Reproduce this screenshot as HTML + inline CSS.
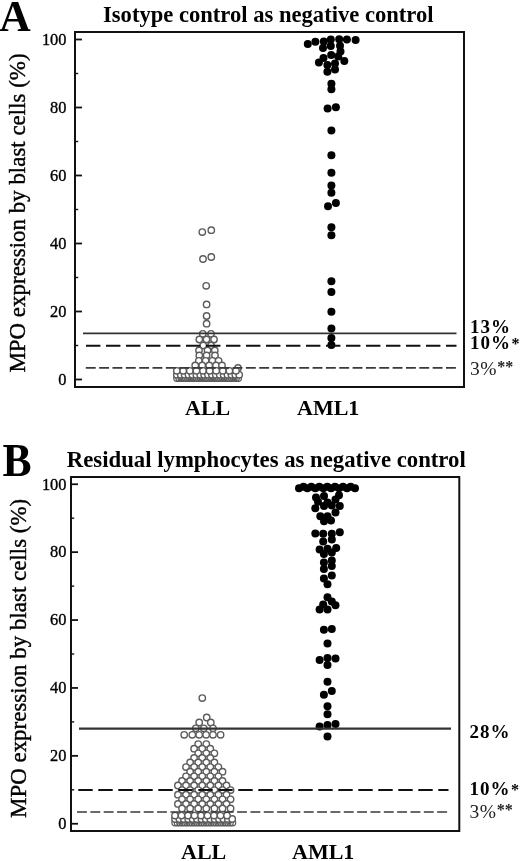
<!DOCTYPE html>
<html><head><meta charset="utf-8"><style>html,body{margin:0;padding:0;background:#fff;width:520px;height:861px;overflow:hidden}svg{display:block}</style></head>
<body>
<svg width="520" height="861" viewBox="0 0 520 861" style="filter:blur(0.4px)">
<style>text{font-family:"Liberation Serif",serif;fill:#000}.tk{font-size:16.4px;stroke:#000;stroke-width:0.35px}.ttl{font-size:22.6px;font-weight:bold}.big{font-size:45px;font-weight:bold}.xl{font-size:22px;font-weight:bold}.yl{font-size:22.95px;stroke:#000;stroke-width:0.4px}.pc{font-size:19px;font-weight:bold;letter-spacing:1px}.pr{font-size:19.5px;letter-spacing:0.6px;fill:#222}.st{font-size:16px;font-weight:bold}</style>
<rect width="520" height="861" fill="#fff"/>
<text transform="translate(-0.8,31.4) scale(0.97,1.0)" class="big">A</text>
<text x="103" y="22.1" class="ttl">Isotype control as negative control</text>
<text transform="translate(25.3,213) rotate(-90)" text-anchor="middle" class="yl">MPO expression by blast cells (%)</text>
<circle cx="176.8" cy="378.3" r="3.1" fill="none" stroke="#5a5a5a" stroke-width="1.2"/>
<circle cx="179.0" cy="378.3" r="3.1" fill="none" stroke="#5a5a5a" stroke-width="1.2"/>
<circle cx="181.2" cy="378.3" r="3.1" fill="none" stroke="#5a5a5a" stroke-width="1.2"/>
<circle cx="183.4" cy="378.3" r="3.1" fill="none" stroke="#5a5a5a" stroke-width="1.2"/>
<circle cx="185.6" cy="378.3" r="3.1" fill="none" stroke="#5a5a5a" stroke-width="1.2"/>
<circle cx="187.8" cy="378.3" r="3.1" fill="none" stroke="#5a5a5a" stroke-width="1.2"/>
<circle cx="190.0" cy="378.3" r="3.1" fill="none" stroke="#5a5a5a" stroke-width="1.2"/>
<circle cx="192.2" cy="378.3" r="3.1" fill="none" stroke="#5a5a5a" stroke-width="1.2"/>
<circle cx="194.4" cy="378.3" r="3.1" fill="none" stroke="#5a5a5a" stroke-width="1.2"/>
<circle cx="196.6" cy="378.3" r="3.1" fill="none" stroke="#5a5a5a" stroke-width="1.2"/>
<circle cx="198.8" cy="378.3" r="3.1" fill="none" stroke="#5a5a5a" stroke-width="1.2"/>
<circle cx="201.0" cy="378.3" r="3.1" fill="none" stroke="#5a5a5a" stroke-width="1.2"/>
<circle cx="203.2" cy="378.3" r="3.1" fill="none" stroke="#5a5a5a" stroke-width="1.2"/>
<circle cx="205.4" cy="378.3" r="3.1" fill="none" stroke="#5a5a5a" stroke-width="1.2"/>
<circle cx="207.6" cy="378.3" r="3.1" fill="none" stroke="#5a5a5a" stroke-width="1.2"/>
<circle cx="209.8" cy="378.3" r="3.1" fill="none" stroke="#5a5a5a" stroke-width="1.2"/>
<circle cx="212.0" cy="378.3" r="3.1" fill="none" stroke="#5a5a5a" stroke-width="1.2"/>
<circle cx="214.2" cy="378.3" r="3.1" fill="none" stroke="#5a5a5a" stroke-width="1.2"/>
<circle cx="216.4" cy="378.3" r="3.1" fill="none" stroke="#5a5a5a" stroke-width="1.2"/>
<circle cx="218.6" cy="378.3" r="3.1" fill="none" stroke="#5a5a5a" stroke-width="1.2"/>
<circle cx="220.8" cy="378.3" r="3.1" fill="none" stroke="#5a5a5a" stroke-width="1.2"/>
<circle cx="223.0" cy="378.3" r="3.1" fill="none" stroke="#5a5a5a" stroke-width="1.2"/>
<circle cx="225.2" cy="378.3" r="3.1" fill="none" stroke="#5a5a5a" stroke-width="1.2"/>
<circle cx="227.4" cy="378.3" r="3.1" fill="none" stroke="#5a5a5a" stroke-width="1.2"/>
<circle cx="229.6" cy="378.3" r="3.1" fill="none" stroke="#5a5a5a" stroke-width="1.2"/>
<circle cx="231.8" cy="378.3" r="3.1" fill="none" stroke="#5a5a5a" stroke-width="1.2"/>
<circle cx="234.0" cy="378.3" r="3.1" fill="none" stroke="#5a5a5a" stroke-width="1.2"/>
<circle cx="236.2" cy="378.3" r="3.1" fill="none" stroke="#5a5a5a" stroke-width="1.2"/>
<circle cx="238.4" cy="378.3" r="3.1" fill="none" stroke="#5a5a5a" stroke-width="1.2"/>
<circle cx="176.8" cy="374.8" r="3.2" fill="#fff" stroke="#5c5c5c" stroke-width="1.4"/>
<circle cx="180.7" cy="374.8" r="3.2" fill="#fff" stroke="#5c5c5c" stroke-width="1.4"/>
<circle cx="184.6" cy="374.8" r="3.2" fill="#fff" stroke="#5c5c5c" stroke-width="1.4"/>
<circle cx="188.5" cy="374.8" r="3.2" fill="#fff" stroke="#5c5c5c" stroke-width="1.4"/>
<circle cx="192.4" cy="374.8" r="3.2" fill="#fff" stroke="#5c5c5c" stroke-width="1.4"/>
<circle cx="196.3" cy="374.8" r="3.2" fill="#fff" stroke="#5c5c5c" stroke-width="1.4"/>
<circle cx="200.2" cy="374.8" r="3.2" fill="#fff" stroke="#5c5c5c" stroke-width="1.4"/>
<circle cx="204.1" cy="374.8" r="3.2" fill="#fff" stroke="#5c5c5c" stroke-width="1.4"/>
<circle cx="208.0" cy="374.8" r="3.2" fill="#fff" stroke="#5c5c5c" stroke-width="1.4"/>
<circle cx="211.9" cy="374.8" r="3.2" fill="#fff" stroke="#5c5c5c" stroke-width="1.4"/>
<circle cx="215.8" cy="374.8" r="3.2" fill="#fff" stroke="#5c5c5c" stroke-width="1.4"/>
<circle cx="219.7" cy="374.8" r="3.2" fill="#fff" stroke="#5c5c5c" stroke-width="1.4"/>
<circle cx="223.6" cy="374.8" r="3.2" fill="#fff" stroke="#5c5c5c" stroke-width="1.4"/>
<circle cx="227.5" cy="374.8" r="3.2" fill="#fff" stroke="#5c5c5c" stroke-width="1.4"/>
<circle cx="231.4" cy="374.8" r="3.2" fill="#fff" stroke="#5c5c5c" stroke-width="1.4"/>
<circle cx="235.3" cy="374.8" r="3.2" fill="#fff" stroke="#5c5c5c" stroke-width="1.4"/>
<circle cx="239.2" cy="374.8" r="3.2" fill="#fff" stroke="#5c5c5c" stroke-width="1.4"/>
<circle cx="202.3" cy="232.1" r="3.2" fill="#fff" stroke="#5c5c5c" stroke-width="1.4"/>
<circle cx="211.3" cy="230.2" r="3.2" fill="#fff" stroke="#5c5c5c" stroke-width="1.4"/>
<circle cx="203.0" cy="259.0" r="3.2" fill="#fff" stroke="#5c5c5c" stroke-width="1.4"/>
<circle cx="211.3" cy="257.0" r="3.2" fill="#fff" stroke="#5c5c5c" stroke-width="1.4"/>
<circle cx="206.2" cy="285.8" r="3.2" fill="#fff" stroke="#5c5c5c" stroke-width="1.4"/>
<circle cx="206.6" cy="304.4" r="3.2" fill="#fff" stroke="#5c5c5c" stroke-width="1.4"/>
<circle cx="206.6" cy="316.0" r="3.2" fill="#fff" stroke="#5c5c5c" stroke-width="1.4"/>
<circle cx="206.6" cy="323.7" r="3.2" fill="#fff" stroke="#5c5c5c" stroke-width="1.4"/>
<circle cx="202.8" cy="333.8" r="3.2" fill="#fff" stroke="#5c5c5c" stroke-width="1.4"/>
<circle cx="211.0" cy="333.8" r="3.2" fill="#fff" stroke="#5c5c5c" stroke-width="1.4"/>
<circle cx="199.3" cy="339.5" r="3.2" fill="#fff" stroke="#5c5c5c" stroke-width="1.4"/>
<circle cx="206.5" cy="339.5" r="3.2" fill="#fff" stroke="#5c5c5c" stroke-width="1.4"/>
<circle cx="214.0" cy="339.5" r="3.2" fill="#fff" stroke="#5c5c5c" stroke-width="1.4"/>
<circle cx="203.2" cy="345.5" r="3.2" fill="#fff" stroke="#5c5c5c" stroke-width="1.4"/>
<circle cx="211.0" cy="345.5" r="3.2" fill="#fff" stroke="#5c5c5c" stroke-width="1.4"/>
<circle cx="199.0" cy="350.5" r="3.2" fill="#fff" stroke="#5c5c5c" stroke-width="1.4"/>
<circle cx="207.5" cy="350.5" r="3.2" fill="#fff" stroke="#5c5c5c" stroke-width="1.4"/>
<circle cx="214.8" cy="350.5" r="3.2" fill="#fff" stroke="#5c5c5c" stroke-width="1.4"/>
<circle cx="199.3" cy="355.5" r="3.2" fill="#fff" stroke="#5c5c5c" stroke-width="1.4"/>
<circle cx="206.6" cy="355.5" r="3.2" fill="#fff" stroke="#5c5c5c" stroke-width="1.4"/>
<circle cx="215.0" cy="355.5" r="3.2" fill="#fff" stroke="#5c5c5c" stroke-width="1.4"/>
<circle cx="198.8" cy="360.8" r="3.2" fill="#fff" stroke="#5c5c5c" stroke-width="1.4"/>
<circle cx="205.6" cy="360.8" r="3.2" fill="#fff" stroke="#5c5c5c" stroke-width="1.4"/>
<circle cx="212.4" cy="360.8" r="3.2" fill="#fff" stroke="#5c5c5c" stroke-width="1.4"/>
<circle cx="218.6" cy="360.8" r="3.2" fill="#fff" stroke="#5c5c5c" stroke-width="1.4"/>
<circle cx="195.2" cy="365.4" r="3.2" fill="#fff" stroke="#5c5c5c" stroke-width="1.4"/>
<circle cx="202.2" cy="365.4" r="3.2" fill="#fff" stroke="#5c5c5c" stroke-width="1.4"/>
<circle cx="209.2" cy="365.4" r="3.2" fill="#fff" stroke="#5c5c5c" stroke-width="1.4"/>
<circle cx="216.0" cy="365.4" r="3.2" fill="#fff" stroke="#5c5c5c" stroke-width="1.4"/>
<circle cx="222.0" cy="365.4" r="3.2" fill="#fff" stroke="#5c5c5c" stroke-width="1.4"/>
<circle cx="238.0" cy="368.0" r="3.2" fill="#fff" stroke="#5c5c5c" stroke-width="1.4"/>
<circle cx="176.8" cy="370.8" r="3.2" fill="#fff" stroke="#5c5c5c" stroke-width="1.4"/>
<circle cx="183.2" cy="370.8" r="3.2" fill="#fff" stroke="#5c5c5c" stroke-width="1.4"/>
<circle cx="189.8" cy="370.8" r="3.2" fill="#fff" stroke="#5c5c5c" stroke-width="1.4"/>
<circle cx="196.4" cy="370.8" r="3.2" fill="#fff" stroke="#5c5c5c" stroke-width="1.4"/>
<circle cx="203.0" cy="370.8" r="3.2" fill="#fff" stroke="#5c5c5c" stroke-width="1.4"/>
<circle cx="209.6" cy="370.8" r="3.2" fill="#fff" stroke="#5c5c5c" stroke-width="1.4"/>
<circle cx="216.2" cy="370.8" r="3.2" fill="#fff" stroke="#5c5c5c" stroke-width="1.4"/>
<circle cx="222.8" cy="370.8" r="3.2" fill="#fff" stroke="#5c5c5c" stroke-width="1.4"/>
<circle cx="229.4" cy="370.8" r="3.2" fill="#fff" stroke="#5c5c5c" stroke-width="1.4"/>
<circle cx="236.0" cy="370.8" r="3.2" fill="#fff" stroke="#5c5c5c" stroke-width="1.4"/>
<circle cx="307.8" cy="44.0" r="4.0" fill="#000"/>
<circle cx="315.4" cy="41.8" r="4.0" fill="#000"/>
<circle cx="323.8" cy="41.5" r="4.0" fill="#000"/>
<circle cx="330.8" cy="39.5" r="4.0" fill="#000"/>
<circle cx="339.2" cy="39.2" r="4.0" fill="#000"/>
<circle cx="346.9" cy="39.5" r="4.0" fill="#000"/>
<circle cx="355.6" cy="40.0" r="4.0" fill="#000"/>
<circle cx="323.0" cy="48.0" r="4.0" fill="#000"/>
<circle cx="330.8" cy="46.0" r="4.0" fill="#000"/>
<circle cx="340.0" cy="45.7" r="4.0" fill="#000"/>
<circle cx="340.5" cy="51.5" r="4.0" fill="#000"/>
<circle cx="331.2" cy="54.9" r="4.0" fill="#000"/>
<circle cx="323.5" cy="58.0" r="4.0" fill="#000"/>
<circle cx="318.9" cy="62.6" r="4.0" fill="#000"/>
<circle cx="338.2" cy="56.5" r="4.0" fill="#000"/>
<circle cx="344.3" cy="61.0" r="4.0" fill="#000"/>
<circle cx="327.4" cy="64.9" r="4.0" fill="#000"/>
<circle cx="335.0" cy="63.4" r="4.0" fill="#000"/>
<circle cx="327.4" cy="71.8" r="4.0" fill="#000"/>
<circle cx="335.0" cy="69.5" r="4.0" fill="#000"/>
<circle cx="331.4" cy="83.7" r="4.0" fill="#000"/>
<circle cx="331.4" cy="89.3" r="4.0" fill="#000"/>
<circle cx="327.6" cy="108.5" r="4.0" fill="#000"/>
<circle cx="335.9" cy="107.2" r="4.0" fill="#000"/>
<circle cx="331.4" cy="130.6" r="4.0" fill="#000"/>
<circle cx="331.4" cy="155.2" r="4.0" fill="#000"/>
<circle cx="331.4" cy="172.7" r="4.0" fill="#000"/>
<circle cx="331.4" cy="185.5" r="4.0" fill="#000"/>
<circle cx="331.4" cy="192.8" r="4.0" fill="#000"/>
<circle cx="335.9" cy="203.0" r="4.0" fill="#000"/>
<circle cx="328.0" cy="206.2" r="4.0" fill="#000"/>
<circle cx="331.4" cy="227.3" r="4.0" fill="#000"/>
<circle cx="331.4" cy="235.2" r="4.0" fill="#000"/>
<circle cx="331.4" cy="281.2" r="4.0" fill="#000"/>
<circle cx="331.4" cy="292.1" r="4.0" fill="#000"/>
<circle cx="331.4" cy="311.7" r="4.0" fill="#000"/>
<circle cx="331.4" cy="328.5" r="4.0" fill="#000"/>
<circle cx="331.4" cy="338.1" r="4.0" fill="#000"/>
<circle cx="331.4" cy="345.1" r="4.0" fill="#000"/>
<line x1="83" y1="333.4" x2="456.5" y2="333.4" stroke="#333" stroke-width="1.8"/>
<line x1="86" y1="345.8" x2="456.5" y2="345.8" stroke="#111" stroke-width="2" stroke-dasharray="14.4 5.6"/>
<line x1="85.8" y1="367.9" x2="456.5" y2="367.9" stroke="#3a3a3a" stroke-width="1.6" stroke-dasharray="9.9 3.44"/>
<rect x="75" y="32" width="389" height="355" fill="none" stroke="#111" stroke-width="2.0"/>
<line x1="76" y1="379.50" x2="82" y2="379.50" stroke="#111" stroke-width="1.8"/>
<text x="66.5" y="384.80" text-anchor="end" class="tk">0</text>
<line x1="76" y1="311.50" x2="82" y2="311.50" stroke="#111" stroke-width="1.8"/>
<text x="66.5" y="316.80" text-anchor="end" class="tk">20</text>
<line x1="76" y1="243.50" x2="82" y2="243.50" stroke="#111" stroke-width="1.8"/>
<text x="66.5" y="248.80" text-anchor="end" class="tk">40</text>
<line x1="76" y1="175.50" x2="82" y2="175.50" stroke="#111" stroke-width="1.8"/>
<text x="66.5" y="180.80" text-anchor="end" class="tk">60</text>
<line x1="76" y1="107.50" x2="82" y2="107.50" stroke="#111" stroke-width="1.8"/>
<text x="66.5" y="112.80" text-anchor="end" class="tk">80</text>
<line x1="76" y1="39.50" x2="82" y2="39.50" stroke="#111" stroke-width="1.8"/>
<text x="66.5" y="44.80" text-anchor="end" class="tk">100</text>
<line x1="76" y1="345.50" x2="78.2" y2="345.50" stroke="#111" stroke-width="1.4"/>
<line x1="76" y1="277.50" x2="78.2" y2="277.50" stroke="#111" stroke-width="1.4"/>
<line x1="76" y1="209.50" x2="78.2" y2="209.50" stroke="#111" stroke-width="1.4"/>
<line x1="76" y1="141.50" x2="78.2" y2="141.50" stroke="#111" stroke-width="1.4"/>
<line x1="76" y1="73.50" x2="78.2" y2="73.50" stroke="#111" stroke-width="1.4"/>
<text x="185" y="415.2" class="xl">ALL</text>
<text x="297" y="415.2" class="xl">AML1</text>
<text x="470" y="332.7" class="pc">13%</text>
<text x="470" y="349.4" class="pc">10%<tspan class="st" dx="0.5" dy="0">*</tspan></text>
<text x="470" y="375" class="pr">3%<tspan class="st" dx="0" dy="-3" style="letter-spacing:0">**</tspan></text>
<text transform="translate(2.5,475.9) scale(0.97,1.02)" class="big">B</text>
<text x="66.8" y="467.1" class="ttl" style="font-size:22.75px">Residual lymphocytes as negative control</text>
<text transform="translate(25.6,658.4) rotate(-90)" text-anchor="middle" class="yl">MPO expression by blast cells (%)</text>
<circle cx="202.3" cy="698.1" r="3.2" fill="#fff" stroke="#5c5c5c" stroke-width="1.4"/>
<circle cx="206.7" cy="717.5" r="3.2" fill="#fff" stroke="#5c5c5c" stroke-width="1.4"/>
<circle cx="199.2" cy="722.5" r="3.2" fill="#fff" stroke="#5c5c5c" stroke-width="1.4"/>
<circle cx="210.8" cy="722.5" r="3.2" fill="#fff" stroke="#5c5c5c" stroke-width="1.4"/>
<circle cx="195.8" cy="728.3" r="3.2" fill="#fff" stroke="#5c5c5c" stroke-width="1.4"/>
<circle cx="203.8" cy="728.3" r="3.2" fill="#fff" stroke="#5c5c5c" stroke-width="1.4"/>
<circle cx="213.0" cy="728.3" r="3.2" fill="#fff" stroke="#5c5c5c" stroke-width="1.4"/>
<circle cx="184.2" cy="734.8" r="3.2" fill="#fff" stroke="#5c5c5c" stroke-width="1.4"/>
<circle cx="192.3" cy="734.8" r="3.2" fill="#fff" stroke="#5c5c5c" stroke-width="1.4"/>
<circle cx="199.2" cy="734.8" r="3.2" fill="#fff" stroke="#5c5c5c" stroke-width="1.4"/>
<circle cx="206.1" cy="734.8" r="3.2" fill="#fff" stroke="#5c5c5c" stroke-width="1.4"/>
<circle cx="213.0" cy="734.8" r="3.2" fill="#fff" stroke="#5c5c5c" stroke-width="1.4"/>
<circle cx="220.6" cy="734.8" r="3.2" fill="#fff" stroke="#5c5c5c" stroke-width="1.4"/>
<circle cx="198.2" cy="744.1" r="3.2" fill="#fff" stroke="#5c5c5c" stroke-width="1.4"/>
<circle cx="206.3" cy="744.1" r="3.2" fill="#fff" stroke="#5c5c5c" stroke-width="1.4"/>
<circle cx="194.1" cy="748.7" r="3.2" fill="#fff" stroke="#5c5c5c" stroke-width="1.4"/>
<circle cx="202.2" cy="748.7" r="3.2" fill="#fff" stroke="#5c5c5c" stroke-width="1.4"/>
<circle cx="210.3" cy="748.7" r="3.2" fill="#fff" stroke="#5c5c5c" stroke-width="1.4"/>
<circle cx="198.2" cy="753.3" r="3.2" fill="#fff" stroke="#5c5c5c" stroke-width="1.4"/>
<circle cx="206.3" cy="753.3" r="3.2" fill="#fff" stroke="#5c5c5c" stroke-width="1.4"/>
<circle cx="214.4" cy="753.3" r="3.2" fill="#fff" stroke="#5c5c5c" stroke-width="1.4"/>
<circle cx="194.1" cy="757.9" r="3.2" fill="#fff" stroke="#5c5c5c" stroke-width="1.4"/>
<circle cx="202.2" cy="757.9" r="3.2" fill="#fff" stroke="#5c5c5c" stroke-width="1.4"/>
<circle cx="210.3" cy="757.9" r="3.2" fill="#fff" stroke="#5c5c5c" stroke-width="1.4"/>
<circle cx="190.1" cy="762.5" r="3.2" fill="#fff" stroke="#5c5c5c" stroke-width="1.4"/>
<circle cx="198.2" cy="762.5" r="3.2" fill="#fff" stroke="#5c5c5c" stroke-width="1.4"/>
<circle cx="206.3" cy="762.5" r="3.2" fill="#fff" stroke="#5c5c5c" stroke-width="1.4"/>
<circle cx="214.4" cy="762.5" r="3.2" fill="#fff" stroke="#5c5c5c" stroke-width="1.4"/>
<circle cx="186.0" cy="767.1" r="3.2" fill="#fff" stroke="#5c5c5c" stroke-width="1.4"/>
<circle cx="194.1" cy="767.1" r="3.2" fill="#fff" stroke="#5c5c5c" stroke-width="1.4"/>
<circle cx="202.2" cy="767.1" r="3.2" fill="#fff" stroke="#5c5c5c" stroke-width="1.4"/>
<circle cx="210.3" cy="767.1" r="3.2" fill="#fff" stroke="#5c5c5c" stroke-width="1.4"/>
<circle cx="218.4" cy="767.1" r="3.2" fill="#fff" stroke="#5c5c5c" stroke-width="1.4"/>
<circle cx="190.1" cy="771.7" r="3.2" fill="#fff" stroke="#5c5c5c" stroke-width="1.4"/>
<circle cx="198.2" cy="771.7" r="3.2" fill="#fff" stroke="#5c5c5c" stroke-width="1.4"/>
<circle cx="206.3" cy="771.7" r="3.2" fill="#fff" stroke="#5c5c5c" stroke-width="1.4"/>
<circle cx="214.4" cy="771.7" r="3.2" fill="#fff" stroke="#5c5c5c" stroke-width="1.4"/>
<circle cx="222.5" cy="771.7" r="3.2" fill="#fff" stroke="#5c5c5c" stroke-width="1.4"/>
<circle cx="186.0" cy="776.3" r="3.2" fill="#fff" stroke="#5c5c5c" stroke-width="1.4"/>
<circle cx="194.1" cy="776.3" r="3.2" fill="#fff" stroke="#5c5c5c" stroke-width="1.4"/>
<circle cx="202.2" cy="776.3" r="3.2" fill="#fff" stroke="#5c5c5c" stroke-width="1.4"/>
<circle cx="210.3" cy="776.3" r="3.2" fill="#fff" stroke="#5c5c5c" stroke-width="1.4"/>
<circle cx="218.4" cy="776.3" r="3.2" fill="#fff" stroke="#5c5c5c" stroke-width="1.4"/>
<circle cx="182.0" cy="780.9" r="3.2" fill="#fff" stroke="#5c5c5c" stroke-width="1.4"/>
<circle cx="190.1" cy="780.9" r="3.2" fill="#fff" stroke="#5c5c5c" stroke-width="1.4"/>
<circle cx="198.2" cy="780.9" r="3.2" fill="#fff" stroke="#5c5c5c" stroke-width="1.4"/>
<circle cx="206.3" cy="780.9" r="3.2" fill="#fff" stroke="#5c5c5c" stroke-width="1.4"/>
<circle cx="214.4" cy="780.9" r="3.2" fill="#fff" stroke="#5c5c5c" stroke-width="1.4"/>
<circle cx="222.5" cy="780.9" r="3.2" fill="#fff" stroke="#5c5c5c" stroke-width="1.4"/>
<circle cx="177.9" cy="785.5" r="3.2" fill="#fff" stroke="#5c5c5c" stroke-width="1.4"/>
<circle cx="186.0" cy="785.5" r="3.2" fill="#fff" stroke="#5c5c5c" stroke-width="1.4"/>
<circle cx="194.1" cy="785.5" r="3.2" fill="#fff" stroke="#5c5c5c" stroke-width="1.4"/>
<circle cx="202.2" cy="785.5" r="3.2" fill="#fff" stroke="#5c5c5c" stroke-width="1.4"/>
<circle cx="210.3" cy="785.5" r="3.2" fill="#fff" stroke="#5c5c5c" stroke-width="1.4"/>
<circle cx="218.4" cy="785.5" r="3.2" fill="#fff" stroke="#5c5c5c" stroke-width="1.4"/>
<circle cx="226.5" cy="785.5" r="3.2" fill="#fff" stroke="#5c5c5c" stroke-width="1.4"/>
<circle cx="182.0" cy="790.1" r="3.2" fill="#fff" stroke="#5c5c5c" stroke-width="1.4"/>
<circle cx="190.1" cy="790.1" r="3.2" fill="#fff" stroke="#5c5c5c" stroke-width="1.4"/>
<circle cx="198.2" cy="790.1" r="3.2" fill="#fff" stroke="#5c5c5c" stroke-width="1.4"/>
<circle cx="206.3" cy="790.1" r="3.2" fill="#fff" stroke="#5c5c5c" stroke-width="1.4"/>
<circle cx="214.4" cy="790.1" r="3.2" fill="#fff" stroke="#5c5c5c" stroke-width="1.4"/>
<circle cx="222.5" cy="790.1" r="3.2" fill="#fff" stroke="#5c5c5c" stroke-width="1.4"/>
<circle cx="230.6" cy="790.1" r="3.2" fill="#fff" stroke="#5c5c5c" stroke-width="1.4"/>
<circle cx="177.9" cy="794.7" r="3.2" fill="#fff" stroke="#5c5c5c" stroke-width="1.4"/>
<circle cx="186.0" cy="794.7" r="3.2" fill="#fff" stroke="#5c5c5c" stroke-width="1.4"/>
<circle cx="194.1" cy="794.7" r="3.2" fill="#fff" stroke="#5c5c5c" stroke-width="1.4"/>
<circle cx="202.2" cy="794.7" r="3.2" fill="#fff" stroke="#5c5c5c" stroke-width="1.4"/>
<circle cx="210.3" cy="794.7" r="3.2" fill="#fff" stroke="#5c5c5c" stroke-width="1.4"/>
<circle cx="218.4" cy="794.7" r="3.2" fill="#fff" stroke="#5c5c5c" stroke-width="1.4"/>
<circle cx="226.5" cy="794.7" r="3.2" fill="#fff" stroke="#5c5c5c" stroke-width="1.4"/>
<circle cx="182.0" cy="799.3" r="3.2" fill="#fff" stroke="#5c5c5c" stroke-width="1.4"/>
<circle cx="190.1" cy="799.3" r="3.2" fill="#fff" stroke="#5c5c5c" stroke-width="1.4"/>
<circle cx="198.2" cy="799.3" r="3.2" fill="#fff" stroke="#5c5c5c" stroke-width="1.4"/>
<circle cx="206.3" cy="799.3" r="3.2" fill="#fff" stroke="#5c5c5c" stroke-width="1.4"/>
<circle cx="214.4" cy="799.3" r="3.2" fill="#fff" stroke="#5c5c5c" stroke-width="1.4"/>
<circle cx="222.5" cy="799.3" r="3.2" fill="#fff" stroke="#5c5c5c" stroke-width="1.4"/>
<circle cx="230.6" cy="799.3" r="3.2" fill="#fff" stroke="#5c5c5c" stroke-width="1.4"/>
<circle cx="177.9" cy="803.9" r="3.2" fill="#fff" stroke="#5c5c5c" stroke-width="1.4"/>
<circle cx="186.0" cy="803.9" r="3.2" fill="#fff" stroke="#5c5c5c" stroke-width="1.4"/>
<circle cx="194.1" cy="803.9" r="3.2" fill="#fff" stroke="#5c5c5c" stroke-width="1.4"/>
<circle cx="202.2" cy="803.9" r="3.2" fill="#fff" stroke="#5c5c5c" stroke-width="1.4"/>
<circle cx="210.3" cy="803.9" r="3.2" fill="#fff" stroke="#5c5c5c" stroke-width="1.4"/>
<circle cx="218.4" cy="803.9" r="3.2" fill="#fff" stroke="#5c5c5c" stroke-width="1.4"/>
<circle cx="226.5" cy="803.9" r="3.2" fill="#fff" stroke="#5c5c5c" stroke-width="1.4"/>
<circle cx="182.0" cy="808.5" r="3.2" fill="#fff" stroke="#5c5c5c" stroke-width="1.4"/>
<circle cx="190.1" cy="808.5" r="3.2" fill="#fff" stroke="#5c5c5c" stroke-width="1.4"/>
<circle cx="198.2" cy="808.5" r="3.2" fill="#fff" stroke="#5c5c5c" stroke-width="1.4"/>
<circle cx="206.3" cy="808.5" r="3.2" fill="#fff" stroke="#5c5c5c" stroke-width="1.4"/>
<circle cx="214.4" cy="808.5" r="3.2" fill="#fff" stroke="#5c5c5c" stroke-width="1.4"/>
<circle cx="222.5" cy="808.5" r="3.2" fill="#fff" stroke="#5c5c5c" stroke-width="1.4"/>
<circle cx="230.6" cy="808.5" r="3.2" fill="#fff" stroke="#5c5c5c" stroke-width="1.4"/>
<circle cx="175.0" cy="822.8" r="3.1" fill="none" stroke="#5a5a5a" stroke-width="1.2"/>
<circle cx="177.4" cy="822.8" r="3.1" fill="none" stroke="#5a5a5a" stroke-width="1.2"/>
<circle cx="179.8" cy="822.8" r="3.1" fill="none" stroke="#5a5a5a" stroke-width="1.2"/>
<circle cx="182.2" cy="822.8" r="3.1" fill="none" stroke="#5a5a5a" stroke-width="1.2"/>
<circle cx="184.6" cy="822.8" r="3.1" fill="none" stroke="#5a5a5a" stroke-width="1.2"/>
<circle cx="187.0" cy="822.8" r="3.1" fill="none" stroke="#5a5a5a" stroke-width="1.2"/>
<circle cx="189.4" cy="822.8" r="3.1" fill="none" stroke="#5a5a5a" stroke-width="1.2"/>
<circle cx="191.8" cy="822.8" r="3.1" fill="none" stroke="#5a5a5a" stroke-width="1.2"/>
<circle cx="194.2" cy="822.8" r="3.1" fill="none" stroke="#5a5a5a" stroke-width="1.2"/>
<circle cx="196.6" cy="822.8" r="3.1" fill="none" stroke="#5a5a5a" stroke-width="1.2"/>
<circle cx="199.0" cy="822.8" r="3.1" fill="none" stroke="#5a5a5a" stroke-width="1.2"/>
<circle cx="201.4" cy="822.8" r="3.1" fill="none" stroke="#5a5a5a" stroke-width="1.2"/>
<circle cx="203.8" cy="822.8" r="3.1" fill="none" stroke="#5a5a5a" stroke-width="1.2"/>
<circle cx="206.2" cy="822.8" r="3.1" fill="none" stroke="#5a5a5a" stroke-width="1.2"/>
<circle cx="208.6" cy="822.8" r="3.1" fill="none" stroke="#5a5a5a" stroke-width="1.2"/>
<circle cx="211.0" cy="822.8" r="3.1" fill="none" stroke="#5a5a5a" stroke-width="1.2"/>
<circle cx="213.4" cy="822.8" r="3.1" fill="none" stroke="#5a5a5a" stroke-width="1.2"/>
<circle cx="215.8" cy="822.8" r="3.1" fill="none" stroke="#5a5a5a" stroke-width="1.2"/>
<circle cx="218.2" cy="822.8" r="3.1" fill="none" stroke="#5a5a5a" stroke-width="1.2"/>
<circle cx="220.6" cy="822.8" r="3.1" fill="none" stroke="#5a5a5a" stroke-width="1.2"/>
<circle cx="223.0" cy="822.8" r="3.1" fill="none" stroke="#5a5a5a" stroke-width="1.2"/>
<circle cx="225.4" cy="822.8" r="3.1" fill="none" stroke="#5a5a5a" stroke-width="1.2"/>
<circle cx="227.8" cy="822.8" r="3.1" fill="none" stroke="#5a5a5a" stroke-width="1.2"/>
<circle cx="230.2" cy="822.8" r="3.1" fill="none" stroke="#5a5a5a" stroke-width="1.2"/>
<circle cx="232.6" cy="822.8" r="3.1" fill="none" stroke="#5a5a5a" stroke-width="1.2"/>
<circle cx="175.0" cy="819.0" r="3.2" fill="#fff" stroke="#5c5c5c" stroke-width="1.4"/>
<circle cx="179.4" cy="819.0" r="3.2" fill="#fff" stroke="#5c5c5c" stroke-width="1.4"/>
<circle cx="183.8" cy="819.0" r="3.2" fill="#fff" stroke="#5c5c5c" stroke-width="1.4"/>
<circle cx="188.2" cy="819.0" r="3.2" fill="#fff" stroke="#5c5c5c" stroke-width="1.4"/>
<circle cx="192.6" cy="819.0" r="3.2" fill="#fff" stroke="#5c5c5c" stroke-width="1.4"/>
<circle cx="197.0" cy="819.0" r="3.2" fill="#fff" stroke="#5c5c5c" stroke-width="1.4"/>
<circle cx="201.4" cy="819.0" r="3.2" fill="#fff" stroke="#5c5c5c" stroke-width="1.4"/>
<circle cx="205.8" cy="819.0" r="3.2" fill="#fff" stroke="#5c5c5c" stroke-width="1.4"/>
<circle cx="210.2" cy="819.0" r="3.2" fill="#fff" stroke="#5c5c5c" stroke-width="1.4"/>
<circle cx="214.6" cy="819.0" r="3.2" fill="#fff" stroke="#5c5c5c" stroke-width="1.4"/>
<circle cx="219.0" cy="819.0" r="3.2" fill="#fff" stroke="#5c5c5c" stroke-width="1.4"/>
<circle cx="223.4" cy="819.0" r="3.2" fill="#fff" stroke="#5c5c5c" stroke-width="1.4"/>
<circle cx="227.8" cy="819.0" r="3.2" fill="#fff" stroke="#5c5c5c" stroke-width="1.4"/>
<circle cx="232.2" cy="819.0" r="3.2" fill="#fff" stroke="#5c5c5c" stroke-width="1.4"/>
<circle cx="175.0" cy="815.6" r="3.2" fill="#fff" stroke="#5c5c5c" stroke-width="1.4"/>
<circle cx="181.5" cy="815.6" r="3.2" fill="#fff" stroke="#5c5c5c" stroke-width="1.4"/>
<circle cx="188.0" cy="815.6" r="3.2" fill="#fff" stroke="#5c5c5c" stroke-width="1.4"/>
<circle cx="194.5" cy="815.6" r="3.2" fill="#fff" stroke="#5c5c5c" stroke-width="1.4"/>
<circle cx="201.0" cy="815.6" r="3.2" fill="#fff" stroke="#5c5c5c" stroke-width="1.4"/>
<circle cx="207.5" cy="815.6" r="3.2" fill="#fff" stroke="#5c5c5c" stroke-width="1.4"/>
<circle cx="214.0" cy="815.6" r="3.2" fill="#fff" stroke="#5c5c5c" stroke-width="1.4"/>
<circle cx="220.5" cy="815.6" r="3.2" fill="#fff" stroke="#5c5c5c" stroke-width="1.4"/>
<circle cx="227.0" cy="815.6" r="3.2" fill="#fff" stroke="#5c5c5c" stroke-width="1.4"/>
<circle cx="299.0" cy="488.3" r="4.0" fill="#000"/>
<circle cx="307.3" cy="488.3" r="4.0" fill="#000"/>
<circle cx="315.3" cy="488.3" r="4.0" fill="#000"/>
<circle cx="323.3" cy="488.3" r="4.0" fill="#000"/>
<circle cx="331.0" cy="488.3" r="4.0" fill="#000"/>
<circle cx="339.0" cy="488.3" r="4.0" fill="#000"/>
<circle cx="347.0" cy="488.3" r="4.0" fill="#000"/>
<circle cx="355.0" cy="488.3" r="4.0" fill="#000"/>
<circle cx="303.5" cy="486.8" r="4.0" fill="#000"/>
<circle cx="311.3" cy="486.8" r="4.0" fill="#000"/>
<circle cx="319.3" cy="486.8" r="4.0" fill="#000"/>
<circle cx="327.3" cy="486.8" r="4.0" fill="#000"/>
<circle cx="335.0" cy="486.8" r="4.0" fill="#000"/>
<circle cx="343.0" cy="486.8" r="4.0" fill="#000"/>
<circle cx="350.6" cy="486.8" r="4.0" fill="#000"/>
<circle cx="316.0" cy="497.5" r="4.0" fill="#000"/>
<circle cx="324.0" cy="496.0" r="4.0" fill="#000"/>
<circle cx="339.0" cy="495.3" r="4.0" fill="#000"/>
<circle cx="318.0" cy="501.8" r="4.0" fill="#000"/>
<circle cx="327.5" cy="502.5" r="4.0" fill="#000"/>
<circle cx="335.5" cy="499.6" r="4.0" fill="#000"/>
<circle cx="315.3" cy="508.3" r="4.0" fill="#000"/>
<circle cx="324.0" cy="506.0" r="4.0" fill="#000"/>
<circle cx="331.8" cy="505.4" r="4.0" fill="#000"/>
<circle cx="339.8" cy="506.0" r="4.0" fill="#000"/>
<circle cx="335.5" cy="512.6" r="4.0" fill="#000"/>
<circle cx="320.3" cy="516.2" r="4.0" fill="#000"/>
<circle cx="327.5" cy="516.2" r="4.0" fill="#000"/>
<circle cx="324.0" cy="521.3" r="4.0" fill="#000"/>
<circle cx="331.0" cy="520.6" r="4.0" fill="#000"/>
<circle cx="315.3" cy="533.6" r="4.0" fill="#000"/>
<circle cx="323.2" cy="533.7" r="4.0" fill="#000"/>
<circle cx="331.8" cy="533.7" r="4.0" fill="#000"/>
<circle cx="339.8" cy="532.2" r="4.0" fill="#000"/>
<circle cx="331.8" cy="539.4" r="4.0" fill="#000"/>
<circle cx="323.2" cy="541.6" r="4.0" fill="#000"/>
<circle cx="319.6" cy="549.5" r="4.0" fill="#000"/>
<circle cx="327.5" cy="548.8" r="4.0" fill="#000"/>
<circle cx="336.2" cy="548.1" r="4.0" fill="#000"/>
<circle cx="323.9" cy="553.9" r="4.0" fill="#000"/>
<circle cx="331.8" cy="552.4" r="4.0" fill="#000"/>
<circle cx="323.9" cy="562.5" r="4.0" fill="#000"/>
<circle cx="331.8" cy="560.4" r="4.0" fill="#000"/>
<circle cx="323.9" cy="569.0" r="4.0" fill="#000"/>
<circle cx="331.8" cy="566.1" r="4.0" fill="#000"/>
<circle cx="323.9" cy="578.4" r="4.0" fill="#000"/>
<circle cx="331.8" cy="575.5" r="4.0" fill="#000"/>
<circle cx="327.5" cy="584.2" r="4.0" fill="#000"/>
<circle cx="327.5" cy="597.2" r="4.0" fill="#000"/>
<circle cx="331.8" cy="601.5" r="4.0" fill="#000"/>
<circle cx="323.2" cy="604.4" r="4.0" fill="#000"/>
<circle cx="335.5" cy="605.2" r="4.0" fill="#000"/>
<circle cx="319.6" cy="609.5" r="4.0" fill="#000"/>
<circle cx="327.5" cy="609.5" r="4.0" fill="#000"/>
<circle cx="323.9" cy="629.7" r="4.0" fill="#000"/>
<circle cx="331.8" cy="629.0" r="4.0" fill="#000"/>
<circle cx="327.5" cy="643.4" r="4.0" fill="#000"/>
<circle cx="319.6" cy="660.0" r="4.0" fill="#000"/>
<circle cx="327.5" cy="657.9" r="4.0" fill="#000"/>
<circle cx="335.5" cy="658.6" r="4.0" fill="#000"/>
<circle cx="327.5" cy="665.1" r="4.0" fill="#000"/>
<circle cx="327.5" cy="681.7" r="4.0" fill="#000"/>
<circle cx="331.8" cy="691.1" r="4.0" fill="#000"/>
<circle cx="323.9" cy="694.7" r="4.0" fill="#000"/>
<circle cx="327.5" cy="706.2" r="4.0" fill="#000"/>
<circle cx="327.5" cy="714.2" r="4.0" fill="#000"/>
<circle cx="319.6" cy="726.6" r="4.0" fill="#000"/>
<circle cx="327.5" cy="725.1" r="4.0" fill="#000"/>
<circle cx="335.5" cy="723.9" r="4.0" fill="#000"/>
<circle cx="327.5" cy="736.6" r="4.0" fill="#000"/>
<line x1="79" y1="728.6" x2="451" y2="728.6" stroke="#333" stroke-width="2.3"/>
<line x1="78.3" y1="790" x2="448.5" y2="790" stroke="#111" stroke-width="2" stroke-dasharray="14.4 5.6"/>
<line x1="77.0" y1="812.0" x2="448" y2="812.0" stroke="#3a3a3a" stroke-width="1.6" stroke-dasharray="9.9 3.44"/>
<rect x="71" y="477" width="388.3" height="354" fill="none" stroke="#111" stroke-width="2.0"/>
<line x1="72" y1="823.75" x2="78" y2="823.75" stroke="#111" stroke-width="1.8"/>
<text x="66.5" y="829.05" text-anchor="end" class="tk">0</text>
<line x1="72" y1="755.85" x2="78" y2="755.85" stroke="#111" stroke-width="1.8"/>
<text x="66.5" y="761.15" text-anchor="end" class="tk">20</text>
<line x1="72" y1="687.95" x2="78" y2="687.95" stroke="#111" stroke-width="1.8"/>
<text x="66.5" y="693.25" text-anchor="end" class="tk">40</text>
<line x1="72" y1="620.05" x2="78" y2="620.05" stroke="#111" stroke-width="1.8"/>
<text x="66.5" y="625.35" text-anchor="end" class="tk">60</text>
<line x1="72" y1="552.15" x2="78" y2="552.15" stroke="#111" stroke-width="1.8"/>
<text x="66.5" y="557.45" text-anchor="end" class="tk">80</text>
<line x1="72" y1="484.25" x2="78" y2="484.25" stroke="#111" stroke-width="1.8"/>
<text x="66.5" y="489.55" text-anchor="end" class="tk">100</text>
<line x1="72" y1="789.80" x2="74.2" y2="789.80" stroke="#111" stroke-width="1.4"/>
<line x1="72" y1="721.90" x2="74.2" y2="721.90" stroke="#111" stroke-width="1.4"/>
<line x1="72" y1="654.00" x2="74.2" y2="654.00" stroke="#111" stroke-width="1.4"/>
<line x1="72" y1="586.10" x2="74.2" y2="586.10" stroke="#111" stroke-width="1.4"/>
<line x1="72" y1="518.20" x2="74.2" y2="518.20" stroke="#111" stroke-width="1.4"/>
<text x="181" y="859" class="xl">ALL</text>
<text x="292" y="859" class="xl">AML1</text>
<text x="469.5" y="737.7" class="pc">28%</text>
<text x="469.5" y="795.4" class="pc">10%<tspan class="st" dx="0.5" dy="0">*</tspan></text>
<text x="469.5" y="817.5" class="pr">3%<tspan class="st" dx="0" dy="-3" style="letter-spacing:0">**</tspan></text>
</svg>
</body></html>
